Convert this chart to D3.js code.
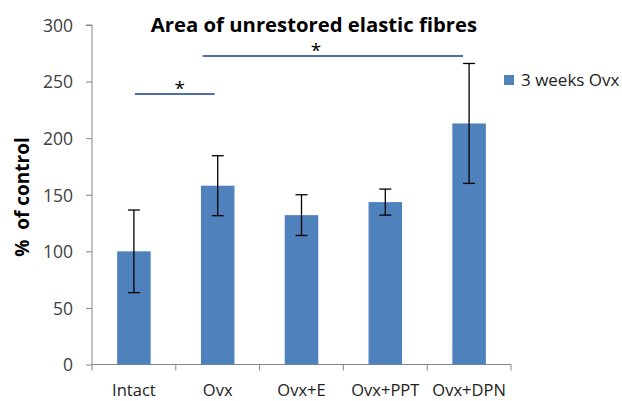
<!DOCTYPE html>
<html><head><meta charset="utf-8">
<script src="https://cdn.jsdelivr.net/npm/d3@7"></script>
<style>body{margin:0;background:#fff}svg{display:block}</style>
</head><body>
<script>
const categories = ["Intact","Ovx","Ovx+E","Ovx+PPT","Ovx+DPN"];
const values = [100, 158, 132, 143.5, 213];
const errors = [36.5, 26.5, 18, 11.5, 53];
const yTicks = [0,50,100,150,200,250,300];
const seriesName = "3 weeks Ovx";
const sigPairs = [["Intact","Ovx",239],["Ovx","Ovx+DPN",272.5]];

const W=622,H=401;
const svg=d3.select("body").append("svg").attr("width",W).attr("height",H);
const x=d3.scaleBand().domain(categories).range([92,511]).paddingInner(0.6).paddingOuter(0.3);
const y=d3.scaleLinear().domain([0,300]).range([364.5,25]);
const font="Open Sans, sans-serif";
const cx=c=>x(c)+x.bandwidth()/2;

// y axis
const ya=svg.append("g").attr("transform","translate(92,0)").call(d3.axisLeft(y).tickValues(yTicks).tickSize(6).tickPadding(13));
ya.select(".domain").attr("stroke","#868686").attr("d","M-6,"+y(300)+"H0V"+y(0));
ya.selectAll(".tick line").attr("stroke","#868686");
ya.selectAll("text").attr("font-family",font).attr("font-size",17.5).attr("fill","#404040").attr("dy","0.36em");

// x axis
const xa=svg.append("g").attr("transform","translate(0,"+y(0)+")");
xa.append("line").attr("x1",92).attr("x2",511).attr("stroke","#868686");
const step=x.step();
const bounds=d3.range(categories.length+1).map(i=>x.range()[0]+i*step);
xa.selectAll("line.t").data(bounds).enter().append("line").attr("class","t")
  .attr("x1",d=>d).attr("x2",d=>d).attr("y1",0).attr("y2",6).attr("stroke","#868686");
xa.selectAll("text").data(categories).enter().append("text")
  .attr("x",d=>cx(d)).attr("y",31.5).attr("text-anchor","middle")
  .attr("font-family",font).attr("font-size",16.5).attr("fill","#222").text(d=>d);

// bars
svg.selectAll("rect.bar").data(categories).enter().append("rect").attr("class","bar")
  .attr("x",d=>x(d)).attr("width",x.bandwidth())
  .attr("y",(d,i)=>y(values[i])).attr("height",(d,i)=>y(0)-y(values[i]))
  .attr("fill","#4F81BD");

// error bars
const eb=svg.append("g").attr("stroke","#000").attr("stroke-width",1.3);
categories.forEach((c,i)=>{
  const px=cx(c), t=y(values[i]+errors[i]), b=y(values[i]-errors[i]);
  eb.append("line").attr("x1",px).attr("x2",px).attr("y1",t).attr("y2",b);
  eb.append("line").attr("x1",px-6).attr("x2",px+6).attr("y1",t).attr("y2",t);
  eb.append("line").attr("x1",px-6).attr("x2",px+6).attr("y1",b).attr("y2",b);
});

// significance
sigPairs.forEach(([a,b,v],k)=>{
  const x1=cx(a)+(k===0?1:-15), x2=cx(b)+(k===0?-3:-6);
  svg.append("line").attr("x1",x1).attr("x2",x2).attr("y1",y(v)).attr("y2",y(v))
    .attr("stroke","#4F6EB0").attr("stroke-width",2);
  svg.append("text").attr("x",(x1+x2)/2+(k===0?5:-17)).attr("y",y(v)+1).attr("text-anchor","middle")
    .attr("font-family",font).attr("font-size",19).attr("fill","#000").text("*");
});

// title
svg.append("text").attr("x",314).attr("y",32).attr("text-anchor","middle")
  .attr("font-family",font).attr("font-weight","bold").attr("font-size",20.3).attr("fill","#000")
  .text("Area of unrestored elastic fibres");

// y label
svg.append("text").attr("transform","translate(29,197) rotate(-90)").attr("text-anchor","middle")
  .attr("font-family",font).attr("font-weight","bold").attr("font-size",19).attr("fill","#000")
  .attr("xml:space","preserve").style("white-space","pre")
  .text("%  of control");

// legend
const lg=svg.append("g").attr("transform","translate(504,75)");
lg.append("rect").attr("width",10).attr("height",10).attr("fill","#4F81BD");
lg.append("text").attr("x",17).attr("y",5).attr("dy","0.36em").attr("font-family",font)
  .attr("font-size",17).attr("fill","#222").text(seriesName);
</script>
</body></html>
